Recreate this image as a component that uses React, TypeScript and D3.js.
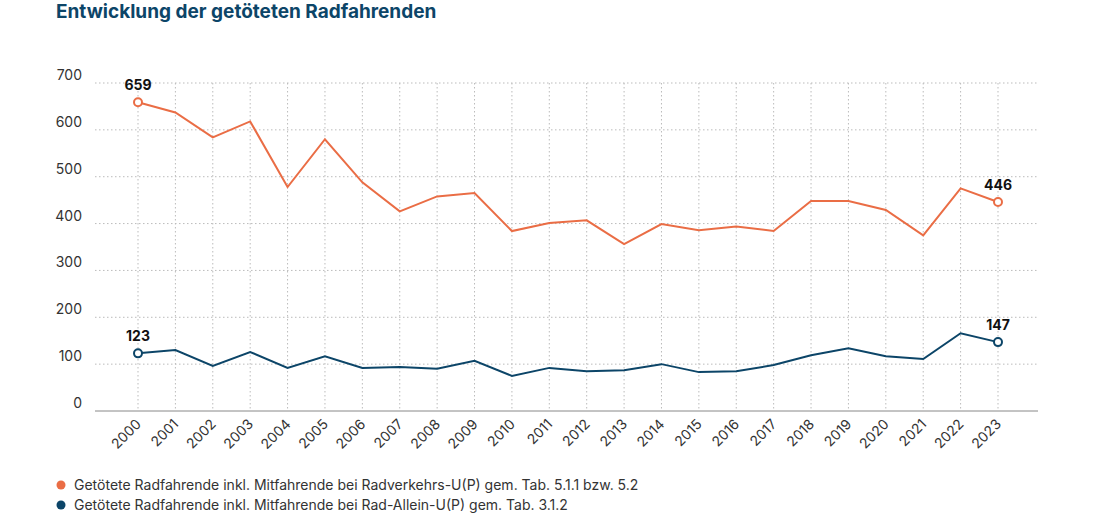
import React from "react";
import * as d3 from "d3";

const years = d3.range(2000, 2024).map(String);
const orange = [659,637,584,618,478,580,488,426,458,465,384,401,407,356,399,386,394,384,448,448,429,375,475,446];
const blue = [123,130,96,126,92,117,92,94,90,107,75,92,85,87,100,83,85,98,119,134,117,111,166,147];
const yTicks = [0,100,200,300,400,500,600,700];
const legend = [
  "Getötete Radfahrende inkl. Mitfahrende bei Radverkehrs-U(P) gem. Tab. 5.1.1 bzw. 5.2",
  "Getötete Radfahrende inkl. Mitfahrende bei Rad-Allein-U(P) gem. Tab. 3.1.2",
];
const C_OR = "#ea6d45", C_BL = "#0c4568";

export default function App() {
  const W = 1094, H = 514;
  const x = d3.scalePoint().domain(years).range([138, 998]);
  const y = d3.scaleLinear().domain([0, 700]).range([411, 83]);
  const line = d3.line<number>().x((_, i) => x(years[i])!).y(d => y(d));
  const font = "Inter, 'Noto Sans', sans-serif";
  const series = [{ v: orange, c: C_OR }, { v: blue, c: C_BL }];
  return (
    <svg width={W} height={H} style={{ position: "absolute", left: 0, top: 0, fontFamily: font }}>
      <text x={56} y={18} fontSize={19} fontWeight={700} fill={C_BL}>Entwicklung der getöteten Radfahrenden</text>
      {yTicks.map(t => (
        <g key={t}>
          {t > 0 && <line x1={95} x2={1038} y1={y(t)} y2={y(t)} stroke="#bbb" strokeDasharray="1.5,2.5" />}
          <text x={82} y={y(t) - 3} textAnchor="end" fontSize={14} fill="#333">{t}</text>
        </g>
      ))}
      {years.map(yr => (
        <g key={yr}>
          <line x1={x(yr)} x2={x(yr)} y1={83} y2={411} stroke="#bbb" strokeDasharray="1.5,2.5" />
          <text transform={`translate(${x(yr)! + 4},${425}) rotate(-45)`} textAnchor="end" fontSize={14} fill="#333">{yr}</text>
        </g>
      ))}
      <line x1={95} x2={1038} y1={411} y2={411} stroke="#888" />
      {series.map((s, k) => (
        <g key={k}>
          <path d={line(s.v)!} fill="none" stroke={s.c} strokeWidth={2} />
          {[0, s.v.length - 1].map(i => (
            <g key={i}>
              <circle cx={x(years[i])} cy={y(s.v[i])} r={4} fill="#fff" stroke={s.c} strokeWidth={2} />
              <text x={x(years[i])} y={y(s.v[i]) - 12} textAnchor="middle" fontSize={14} fontWeight={700} fill="#111">{s.v[i]}</text>
            </g>
          ))}
        </g>
      ))}
      {legend.map((l, i) => (
        <g key={i}>
          <circle cx={61} cy={485 + i * 20} r={4.5} fill={i === 0 ? C_OR : C_BL} />
          <text x={74} y={490 + i * 20} fontSize={14} fill="#333">{l}</text>
        </g>
      ))}
    </svg>
  );
}
